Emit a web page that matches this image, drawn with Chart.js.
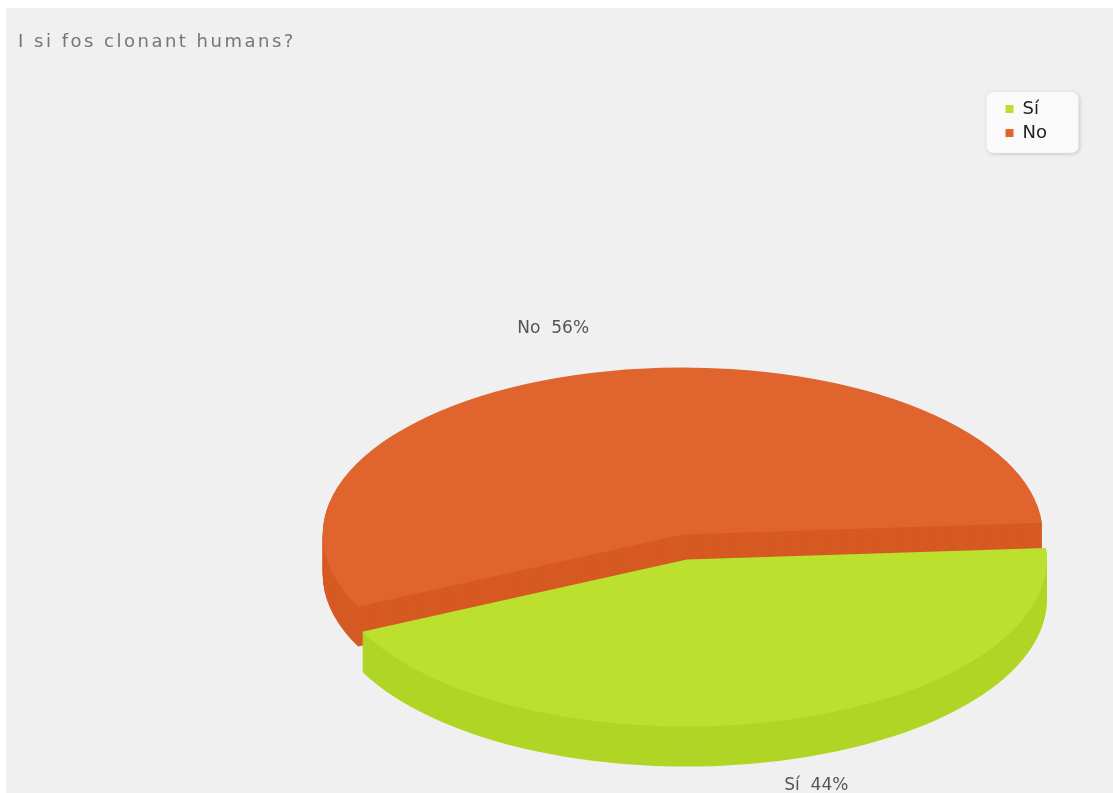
<!DOCTYPE html>
<html>
<head>
<meta charset="utf-8">
<script src="https://cdn.jsdelivr.net/npm/chart.js@4.4.1/dist/chart.umd.min.js"></script>
<style>
  html, body { margin: 0; padding: 0; background: #fff; width: 1113px; height: 793px; overflow: hidden; }
  #panel { position: absolute; left: 6px; top: 8px; width: 1107px; height: 785px; background: #f0f0f0; overflow: hidden; }
  #panel canvas { position: absolute; left: 0; top: 0; }
  #title { position: absolute; left: 12px; top: 22px; font: 18px "DejaVu Sans", sans-serif; letter-spacing: 2.5px; color: #767676; }
</style>
</head>
<body>
<div id="panel">
  <!-- canvas runs past the bottom of the panel so the pie can sit low -->
  <canvas id="pieChart" width="1107" height="992"></canvas>
  <div id="title">I si fos clonant humans?</div>
</div>
<script>
const labels = ['Sí', 'No'];
const values = [44, 56];
const topColors = ['#bbe02e', '#e0642e'];
const sideColors = ['#b1d526', '#d65a23'];

// 3D look
const SQUASH = 0.464;
const DEPTH = 40;
const EXPLODE_X = 8;
const EXPLODE_Y = 28;
const LABEL_RX = 515;
const LABEL_RY = 226;

const pieCtx = document.getElementById('pieChart').getContext('2d');

function midAngle(arc) {
    return (arc.startAngle + arc.endAngle) / 2;
}

// flatten the pie vertically around its centre
function squash(ctx, x, y) {
    ctx.translate(x, y);
    ctx.scale(1, SQUASH);
    ctx.translate(-x, -y);
}

// draw an arc element with a given fill, pushed out along its mid angle
function drawSlice(ctx, arc, color) {
    const proxy = Object.create(arc);
    proxy.options = Object.assign({}, arc.options, { backgroundColor: color, borderWidth: 0, offset: 0 });
    const m = midAngle(arc);
    ctx.save();
    ctx.translate(Math.cos(m) * EXPLODE_X, Math.sin(m) * EXPLODE_Y);
    proxy.draw(ctx);
    ctx.restore();
}

const pie3d = {
    id: 'pie3d',
    beforeDraw(chart) {
        // legend background card
        const boxes = chart.legend.legendHitBoxes;
        if (!boxes || !boxes.length) return;
        const ctx = chart.ctx;
        const first = boxes[0];
        const last = boxes[boxes.length - 1];
        const x = first.left - 19;
        const y = first.top - 8;
        const w = 92;
        const h = last.top + last.height - first.top + 19;
        ctx.save();
        ctx.shadowColor = 'rgba(0,0,0,0.18)';
        ctx.shadowBlur = 4;
        ctx.shadowOffsetX = 1;
        ctx.shadowOffsetY = 1;
        ctx.fillStyle = '#fafafa';
        ctx.beginPath();
        ctx.roundRect(x, y, w, h, 7);
        ctx.fill();
        ctx.restore();
    },
    beforeDatasetsDraw(chart) {
        const ctx = chart.ctx;
        const arcs = chart.getDatasetMeta(0).data;
        const { x, y } = arcs[0];
        // slices at the back first
        const order = arcs.map((a, i) => i)
            .sort((a, b) => Math.sin(midAngle(arcs[a])) - Math.sin(midAngle(arcs[b])));
        order.forEach(i => {
            const arc = arcs[i];
            for (let d = DEPTH; d > 0; d--) {
                ctx.save();
                ctx.translate(0, d);
                squash(ctx, x, y);
                drawSlice(ctx, arc, sideColors[i]);
                ctx.restore();
            }
            ctx.save();
            squash(ctx, x, y);
            drawSlice(ctx, arc, topColors[i]);
            ctx.restore();
        });
        return false;
    },
    afterDraw(chart) {
        const ctx = chart.ctx;
        const arcs = chart.getDatasetMeta(0).data;
        const total = values.reduce((s, v) => s + v, 0);
        ctx.save();
        ctx.font = '17px "DejaVu Sans"';
        ctx.fillStyle = '#555';
        ctx.textAlign = 'center';
        ctx.textBaseline = 'middle';
        arcs.forEach((arc, i) => {
            const m = midAngle(arc);
            const s = Math.sin(m);
            const lx = arc.x + Math.cos(m) * LABEL_RX;
            const ly = arc.y + s * LABEL_RY + (s > 0 ? DEPTH / 2 : 0);
            const pct = Math.round(values[i] / total * 100);
            ctx.fillText(`${labels[i]}  ${pct}%`, lx, ly);
        });
        ctx.restore();
    }
};

new Chart(pieCtx, {
    type: 'pie',
    data: {
        labels: labels,
        datasets: [{
            data: values,
            backgroundColor: topColors,
            borderWidth: 0
        }]
    },
    options: {
        responsive: false,
        animation: false,
        rotation: 86,
        radius: 360,
        layout: {
            padding: { top: 86, left: 364, right: 56, bottom: 0 }
        },
        plugins: {
            tooltip: { enabled: false },
            legend: {
                position: 'right',
                align: 'start',
                labels: {
                    font: { family: 'DejaVu Sans', size: 18 },
                    color: '#222',
                    boxWidth: 8,
                    boxHeight: 8,
                    padding: 6
                }
            }
        }
    },
    plugins: [pie3d]
});
</script>
</body>
</html>
